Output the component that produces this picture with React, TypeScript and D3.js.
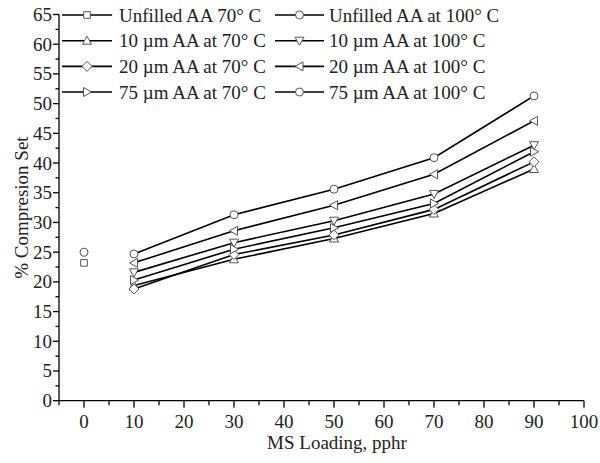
import React from "react";
import * as d3 from "d3";

const loadings = [10, 30, 50, 70, 90];
const unfilledX = [0];
const unfilled70 = [23.2];
const unfilled100 = [25.0];
const um10at70 = [19.4, 23.8, 27.3, 31.5, 39.0];
const um10at100 = [21.6, 26.6, 30.3, 34.8, 43.0];
const um20at70 = [18.8, 24.6, 27.9, 32.2, 40.2];
const um20at100 = [23.2, 28.6, 32.9, 38.1, 47.1];
const um75at70 = [20.3, 25.5, 29.1, 33.2, 41.9];
const um75at100 = [24.7, 31.3, 35.6, 40.9, 51.3];
const xTicks = [0, 10, 20, 30, 40, 50, 60, 70, 80, 90, 100];
const yTicks = [0, 5, 10, 15, 20, 25, 30, 35, 40, 45, 50, 55, 60, 65];

type Shape = "square" | "circle" | "up" | "down" | "diamond" | "left" | "right";

const seriesList: { name: string; xs: number[]; ys: number[]; shape: Shape; line: boolean }[] = [
  { name: "Unfilled AA 70° C", xs: unfilledX, ys: unfilled70, shape: "square", line: false },
  { name: "Unfilled AA at 100° C", xs: unfilledX, ys: unfilled100, shape: "circle", line: false },
  { name: "10 µm AA at 70° C", xs: loadings, ys: um10at70, shape: "up", line: true },
  { name: "10 µm AA at 100° C", xs: loadings, ys: um10at100, shape: "down", line: true },
  { name: "20 µm AA at 70° C", xs: loadings, ys: um20at70, shape: "diamond", line: true },
  { name: "20 µm AA at 100° C", xs: loadings, ys: um20at100, shape: "left", line: true },
  { name: "75 µm AA at 70° C", xs: loadings, ys: um75at70, shape: "right", line: true },
  { name: "75 µm AA at 100° C", xs: loadings, ys: um75at100, shape: "circle", line: true },
];

function markerPath(shape: Shape, cx: number, cy: number): string {
  const r = 4;
  switch (shape) {
    case "square":
      return `M${cx - 3.3},${cy - 3.3}h6.6v6.6h-6.6Z`;
    case "circle":
      return `M${cx + r},${cy}A${r},${r} 0 1,1 ${cx - r},${cy}A${r},${r} 0 1,1 ${cx + r},${cy}Z`;
    case "up":
      return `M${cx},${cy - 4.5}L${cx + 4.5},${cy + 3.5}L${cx - 4.5},${cy + 3.5}Z`;
    case "down":
      return `M${cx},${cy + 4.5}L${cx + 4.5},${cy - 3.5}L${cx - 4.5},${cy - 3.5}Z`;
    case "diamond":
      return `M${cx},${cy - 5}L${cx + 5},${cy}L${cx},${cy + 5}L${cx - 5},${cy}Z`;
    case "left":
      return `M${cx - 4.5},${cy}L${cx + 3.5},${cy - 4.5}L${cx + 3.5},${cy + 4.5}Z`;
    case "right":
      return `M${cx + 4.5},${cy}L${cx - 3.5},${cy - 4.5}L${cx - 3.5},${cy + 4.5}Z`;
  }
}

export default function App() {
  const W = 600;
  const H = 463;
  const x = d3.scaleLinear().domain([-5, 100]).range([59, 584]);
  const y = d3.scaleLinear().domain([0, 65]).range([400.7, 14.5]);
  const font = "'Liberation Serif', 'Times New Roman', serif";
  const line = d3
    .line<[number, number]>()
    .x((d) => x(d[0]))
    .y((d) => y(d[1]));

  const xMinor = d3.range(-5, 101, 5).filter((v) => v % 10 !== 0);
  const yMinor = d3.range(2.5, 65, 5);
  const x0 = x(-5);
  const y0 = y(0);

  const legendCols = [
    { lx0: 62, lx1: 112, tx: 119 },
    { lx0: 275, lx1: 324, tx: 329 },
  ];
  const legendRows = [15, 40.7, 66.4, 92];

  return (
    <svg width={W} height={H} style={{ position: "absolute", left: 0, top: 0, background: "#fff" }}>
      <rect width={W} height={H} fill="#fff" />
      {/* axes */}
      <line x1={x0} x2={x(100)} y1={y0} y2={y0} stroke="#000" strokeWidth={1.3} />
      <line x1={x0} x2={x0} y1={y(65)} y2={y0} stroke="#000" strokeWidth={1.3} />
      {xTicks.map((t) => (
        <g key={"xt" + t}>
          <line x1={x(t)} x2={x(t)} y1={y0} y2={y0 + 7} stroke="#000" strokeWidth={1.3} />
          <text x={x(t)} y={y0 + 27} textAnchor="middle" fontFamily={font} fontSize={19} fill="#222">
            {t}
          </text>
        </g>
      ))}
      {xMinor.map((t) => (
        <line key={"xm" + t} x1={x(t)} x2={x(t)} y1={y0} y2={y0 + 4.5} stroke="#000" strokeWidth={1.3} />
      ))}
      {yTicks.map((t) => (
        <g key={"yt" + t}>
          <line x1={x0 - 6} x2={x0} y1={y(t)} y2={y(t)} stroke="#000" strokeWidth={1.3} />
          <text x={x0 - 7} y={y(t) + 6.5} textAnchor="end" fontFamily={font} fontSize={19} fill="#222">
            {t}
          </text>
        </g>
      ))}
      {yMinor.map((t) => (
        <line key={"ym" + t} x1={x0 - 3.5} x2={x0} y1={y(t)} y2={y(t)} stroke="#000" strokeWidth={1.3} />
      ))}
      <text
        transform={`translate(28,${(y(0) + y(65)) / 2}) rotate(-90)`}
        textAnchor="middle"
        fontFamily={font}
        fontSize={19}
        fill="#222"
      >
        % Compresion Set
      </text>
      <text x={337} y={449} textAnchor="middle" fontFamily={font} fontSize={19} fill="#222">
        MS Loading, pphr
      </text>
      {/* lines */}
      {seriesList
        .filter((s) => s.line)
        .map((s) => (
          <path
            key={"l" + s.name}
            d={line(s.xs.map((v, i) => [v, s.ys[i]] as [number, number])) || ""}
            fill="none"
            stroke="#000"
            strokeWidth={1.6}
          />
        ))}
      {/* markers */}
      {seriesList.map((s) =>
        s.xs.map((v, i) => (
          <path
            key={"m" + s.name + i}
            d={markerPath(s.shape, x(v), y(s.ys[i]))}
            fill="#fff"
            stroke="#555"
            strokeWidth={1}
          />
        ))
      )}
      {/* legend */}
      {seriesList.map((s, i) => {
        const col = legendCols[i % 2];
        const ry = legendRows[Math.floor(i / 2)];
        const mx = (col.lx0 + col.lx1) / 2;
        return (
          <g key={"lg" + s.name}>
            <line x1={col.lx0} x2={col.lx1} y1={ry} y2={ry} stroke="#000" strokeWidth={1.6} />
            <path d={markerPath(s.shape, mx, ry)} fill="#fff" stroke="#555" strokeWidth={1} />
            <text x={col.tx} y={ry + 6.5} fontFamily={font} fontSize={19} fill="#222">
              {s.name}
            </text>
          </g>
        );
      })}
    </svg>
  );
}
